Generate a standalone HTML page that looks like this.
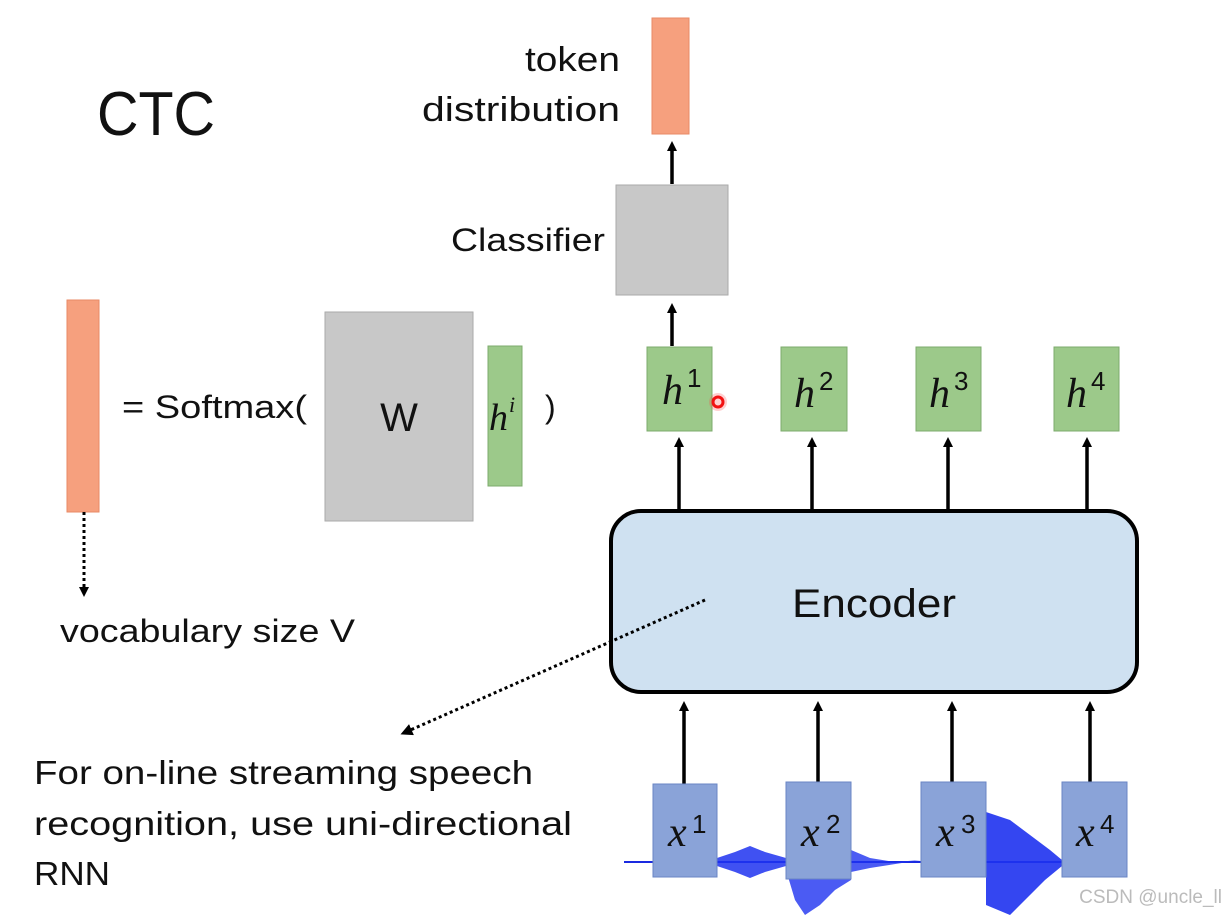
<!DOCTYPE html>
<html><head><meta charset="utf-8"><style>
html,body{margin:0;padding:0;background:#fff;}
svg{display:block;}
text{font-family:"Liberation Sans",sans-serif;fill:#111;}
.m{font-family:"Liberation Serif",serif;font-style:italic;}
</style></head><body>
<svg width="1230" height="918" viewBox="0 0 1230 918" xmlns="http://www.w3.org/2000/svg">
<defs>
<marker id="a" markerWidth="10" markerHeight="10" refX="5" refY="5" orient="auto" markerUnits="userSpaceOnUse"><path d="M0,0 L10,5 L0,10 z" fill="#000"/></marker>
<marker id="b" markerWidth="12" markerHeight="12" refX="6" refY="6" orient="auto" markerUnits="userSpaceOnUse"><path d="M0,0 L12,6 L0,12 z" fill="#000"/></marker>
</defs>
<text x="97" y="135" font-size="62" textLength="118" lengthAdjust="spacingAndGlyphs">CTC</text>
<text x="525" y="71" font-size="34" textLength="95" lengthAdjust="spacingAndGlyphs">token</text>
<text x="422" y="121" font-size="34" textLength="198" lengthAdjust="spacingAndGlyphs">distribution</text>
<rect x="652" y="18" width="37" height="116" fill="#f6a07e" stroke="#e88a66"/>
<line x1="672" y1="184" x2="672" y2="146" stroke="#000" stroke-width="3.5" marker-end="url(#a)"/>
<rect x="616" y="185" width="112" height="110" fill="#c8c8c8" stroke="#aaa"/>
<text x="451" y="251" font-size="32" textLength="154" lengthAdjust="spacingAndGlyphs">Classifier</text>
<line x1="672" y1="346" x2="672" y2="308" stroke="#000" stroke-width="3.5" marker-end="url(#a)"/>

<rect x="67" y="300" width="32" height="212" fill="#f6a07e" stroke="#e88a66"/>
<line x1="84" y1="512" x2="84" y2="592" stroke="#000" stroke-width="3" stroke-dasharray="3,3" marker-end="url(#a)"/>
<text x="60" y="642" font-size="32" textLength="295" lengthAdjust="spacingAndGlyphs">vocabulary size V</text>
<text x="122" y="418" font-size="32" textLength="185" lengthAdjust="spacingAndGlyphs">= Softmax(</text>
<rect x="325" y="312" width="148" height="209" fill="#c8c8c8" stroke="#aaa"/>
<text x="399" y="431" font-size="40" text-anchor="middle">W</text>
<rect x="488" y="346" width="34" height="140" fill="#9cc98a" stroke="#7cab6c"/>
<text x="489" y="430" font-size="38" class="m">h</text><text x="509" y="412" font-size="22" class="m">i</text>
<text x="545" y="418" font-size="32">)</text>

<g fill="#9cc98a" stroke="#7cab6c">
<rect x="647" y="347" width="65" height="84"/><rect x="781" y="347" width="66" height="84"/>
<rect x="916" y="347" width="65" height="84"/><rect x="1054" y="347" width="65" height="84"/>
</g>
<g font-size="42" class="m">
<text x="662" y="404" class="m">h</text><text x="794" y="407" class="m">h</text><text x="929" y="407" class="m">h</text><text x="1066" y="407" class="m">h</text>
</g>
<g font-size="26">
<text x="687" y="387">1</text><text x="819" y="390">2</text><text x="954" y="390">3</text><text x="1091" y="390">4</text>
</g>
<circle cx="718" cy="402" r="5" fill="none" stroke="#e00" stroke-width="3"/>
<circle cx="718" cy="402" r="9" fill="#f44" opacity="0.25"/>
<g stroke="#000" stroke-width="3.5">
<line x1="679" y1="510" x2="679" y2="442" marker-end="url(#a)"/>
<line x1="812" y1="510" x2="812" y2="442" marker-end="url(#a)"/>
<line x1="948" y1="510" x2="948" y2="442" marker-end="url(#a)"/>
<line x1="1087" y1="510" x2="1087" y2="442" marker-end="url(#a)"/>
</g>
<rect x="611" y="511" width="526" height="181" rx="30" fill="#cfe1f1" stroke="#000" stroke-width="4"/>
<text x="792" y="617" font-size="40" textLength="164" lengthAdjust="spacingAndGlyphs">Encoder</text>
<g stroke="#000" stroke-width="3.5">
<line x1="684" y1="784" x2="684" y2="706" marker-end="url(#a)"/>
<line x1="818" y1="782" x2="818" y2="706" marker-end="url(#a)"/>
<line x1="952" y1="782" x2="952" y2="706" marker-end="url(#a)"/>
<line x1="1090" y1="782" x2="1090" y2="706" marker-end="url(#a)"/>
</g>
<line x1="624" y1="862" x2="1062" y2="862" stroke="#1a2ae0" stroke-width="2"/>
<path d="M717,858 L735,852 750,846 765,852 786,858 786,866 765,872 750,878 735,872 717,866 Z" fill="#1e32f0" opacity="0.85"/>
<path d="M786,870 L795,900 805,915 820,905 835,890 851,880 L851,870 Z M851,850 L870,858 895,862 921,860 870,868 851,872 Z" fill="#1e32f0" opacity="0.8"/>
<path d="M986,812 L1010,820 1030,835 1050,850 1062,860 1062,866 1045,880 1030,895 1010,915 986,905 Z" fill="#1e32f0" opacity="0.9"/>
<g fill="#8aa3d8" stroke="#6a86c4">
<rect x="653" y="784" width="64" height="93"/><rect x="786" y="782" width="65" height="97"/>
<rect x="921" y="782" width="65" height="95"/><rect x="1062" y="782" width="65" height="95"/>
</g>
<g font-size="42" class="m">
<text x="668" y="846" class="m">x</text><text x="801" y="846" class="m">x</text><text x="936" y="846" class="m">x</text><text x="1076" y="846" class="m">x</text>
</g>
<g font-size="26">
<text x="692" y="833">1</text><text x="826" y="833">2</text><text x="961" y="833">3</text><text x="1100" y="833">4</text>
</g>
<line x1="705" y1="600" x2="406" y2="732" stroke="#000" stroke-width="3" stroke-dasharray="3,3" marker-end="url(#b)"/>
<text x="34" y="784" font-size="33" textLength="499" lengthAdjust="spacingAndGlyphs">For on-line streaming speech</text>
<text x="34" y="835" font-size="33" textLength="538" lengthAdjust="spacingAndGlyphs">recognition, use uni-directional</text>
<text x="34" y="885" font-size="33" textLength="76" lengthAdjust="spacingAndGlyphs">RNN</text>
<text x="1222" y="903" font-size="19" text-anchor="end" style="fill:#bbb">CSDN @uncle_ll</text>
</svg>
</body></html>
